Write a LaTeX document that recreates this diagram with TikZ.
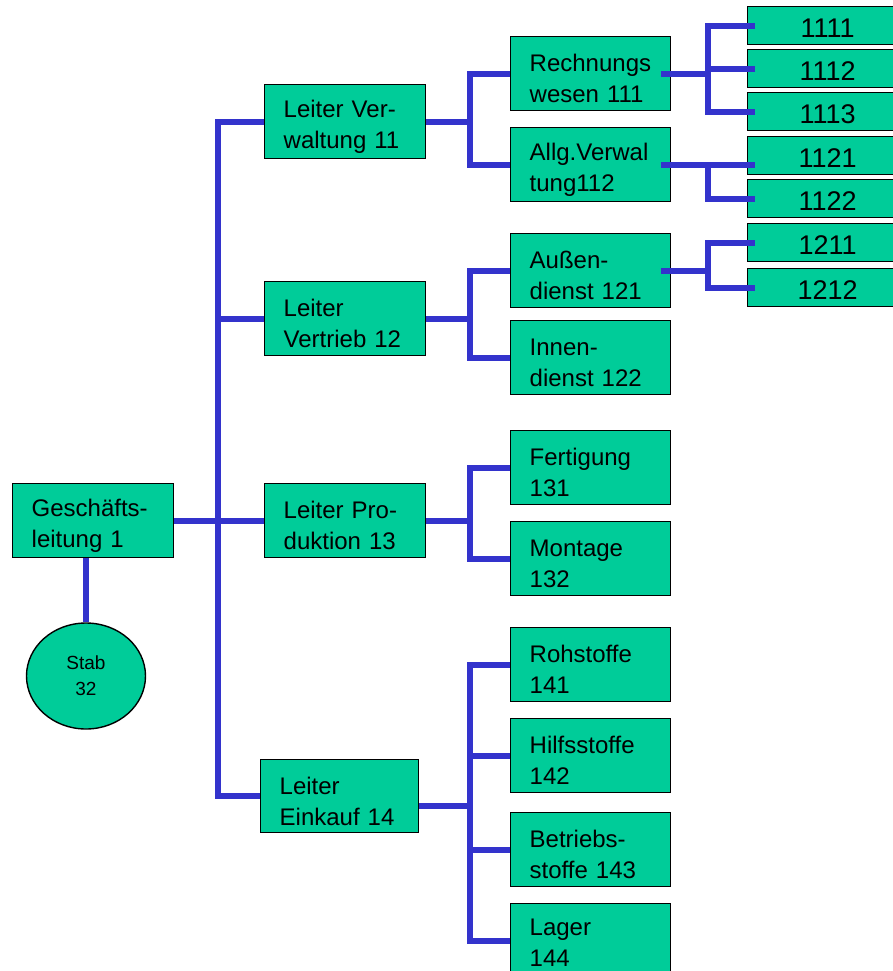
\documentclass[tikz,border=0pt]{standalone}
\usepackage{fontspec}
\setmainfont{Liberation Sans}
\usetikzlibrary{shapes.geometric,calc}
\definecolor{boxgreen}{HTML}{00CC99}
\definecolor{connblue}{HTML}{3333CC}
\hyphenpenalty=10000\relax
\exhyphenpenalty=10000\relax
\def\boxstrut{27pt}
\tikzset{
  box/.style={draw=black, line width=1.4pt, fill=boxgreen, anchor=north west, inner xsep=19pt, inner ysep=0pt,
    text width=#1, align=left, minimum height=74pt,
    font=\fontsize{24}{31}\selectfont, execute at begin node={\rule{0pt}{\boxstrut}}},
  box/.default=123pt,
  small/.style={draw=black, line width=1.4pt, fill=boxgreen, anchor=north west, minimum width=160pt, minimum height=38pt,
    inner sep=0pt, align=center, font=\fontsize{27}{27}\selectfont, execute at begin node={\rule{0pt}{24pt}}},
  conn/.style={draw=connblue, line width=6pt, line join=miter},
  stabnode/.style={draw=black, line width=1.4pt, fill=boxgreen, ellipse, minimum width=119pt, minimum height=106pt,
    align=center, font=\fontsize{19}{26}\selectfont, execute at begin node={\rule{0pt}{32pt}}},
}
\begin{document}
\begin{tikzpicture}[x=1pt,y=-1pt]
\useasboundingbox (0,0) rectangle (893,971);
\clip (0,0) rectangle (893,971);
% level 0/1 boxes
\node[box] (gl) at (12,483) {Geschäfts-\\leitung 1};
\node[stabnode] (stab) at (86,676) {Stab\\32};
\node[box] (verw) at (264,84) {Leiter Ver-\\waltung 11};
\node[box] (vert) at (264,281) {Leiter\\Vertrieb 12};
\node[box] (prod) at (264,483) {Leiter Pro-\\duktion 13};
\node[box=120pt, minimum height=73pt] (eink) at (260,759) {Leiter\\Einkauf 14};
% level 2
\node[box=122pt] (rw) at (510,36) {Rechnungs\\wesen 111};
\node[box=122pt] (allg) at (510,127) {Allg.Verwal\\tung112};
\node[box=122pt] (aus) at (510,233) {Außen-\\dienst 121};
\node[box=122pt] (inn) at (510,320) {Innen-\\dienst 122};
\node[box=122pt] (fert) at (510,430) {Fertigung\\131};
\node[box=122pt] (mont) at (510,521) {Montage\\132};
\node[box=122pt] (roh) at (510,627) {Rohstoffe\\141};
\node[box=122pt] (hilf) at (510,718) {Hilfsstoffe\\142};
\node[box=122pt] (betr) at (510,812) {Betriebs-\\stoffe 143};
\node[box=122pt, /utils/exec={\def\boxstrut{21pt}}] (lag) at (510,903) {Lager\\144};
% level 3
\node[small] (b1111) at (747,6) {1111};
\node[small] (b1112) at (747,49) {1112};
\node[small] (b1113) at (747,92) {1113};
\node[small] (b1121) at (747,136) {1121};
\node[small] (b1122) at (747,179) {1122};
\node[small] (b1211) at (747,223) {1211};
\node[small] (b1212) at (747,268) {1212};
% bus coordinates
\coordinate (busA) at (218,500);
\coordinate (busB) at (470,0);
\coordinate (busC) at (708,0);
% connectors level 0-1
\draw[conn] (stab.north) -- (stab.north |- gl.south);
\draw[conn] (verw.west) -| (busA) |- (eink.west);
\draw[conn] (vert.west) -- (vert.west -| busA);
\draw[conn] (gl.east) -- (prod.west);
% level 1-2
\draw[conn] (verw.east) -- (verw.east -| busB);
\draw[conn] (rw.west) -| (busB |- verw.east) |- (allg.west);
\draw[conn] (vert.east) -- (vert.east -| busB);
\draw[conn] (aus.west) -| (busB |- vert.east) |- (inn.west);
\draw[conn] (prod.east) -- (prod.east -| busB);
\draw[conn] (fert.west) -| (busB |- prod.east) |- (mont.west);
\draw[conn] ([yshift=-10pt]eink.east) -- ([yshift=-10pt]eink.east -| busB);
\draw[conn] (roh.west) -| (busB |- lag.west) -- (lag.west);
\draw[conn] (hilf.west) -- (hilf.west -| busB);
\draw[conn] (betr.west) -- (betr.west -| busB);
% level 2-3
\draw[conn] ([xshift=-10pt]rw.east) -- (rw.east -| busC);
\draw[conn] ([xshift=8pt]b1111.west) -| (busC |- b1113.west) -- ([xshift=8pt]b1113.west);
\draw[conn] ([xshift=8pt]b1112.west) -- (b1112.west -| busC);
\draw[conn] ([xshift=-10pt]allg.east) -- ([xshift=8pt]allg.east -| b1121.west);
\draw[conn] (busC |- allg.east) |- ([xshift=8pt]b1122.west);
\draw[conn] ([xshift=-10pt]aus.east) -- (aus.east -| busC);
\draw[conn] ([xshift=8pt]b1211.west) -| (busC |- b1212.west) -- ([xshift=8pt]b1212.west);
\end{tikzpicture}
\end{document}
